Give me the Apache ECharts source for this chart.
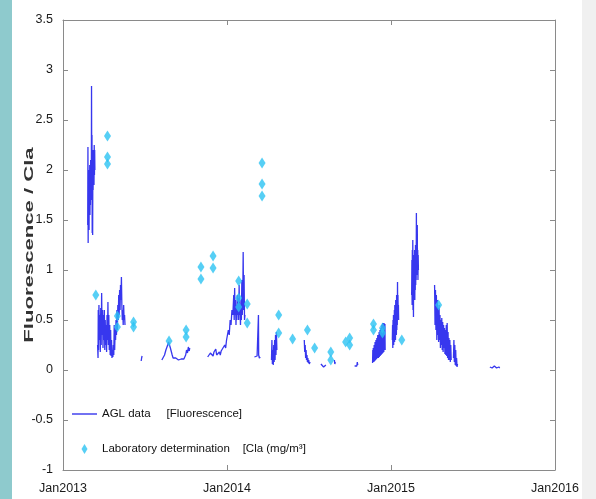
<!DOCTYPE html>
<html><head><meta charset="utf-8">
<script src="https://cdn.jsdelivr.net/npm/echarts@6/dist/echarts.min.js"></script>
<style>html,body{margin:0;padding:0;background:#fff}#c{width:596px;height:499px}</style>
</head><body><div id="c"></div>
<script>
// ---- data ----
const xTickYears = [2013, 2014, 2015, 2016];
const yMin = -1, yMax = 3.5, yStep = 0.5;
const aglName = 'AGL data     [Fluorescence]';
const labName = 'Laboratory determination    [Cla (mg/m\u00B3]';

// AGL fluorescence samples [date, value]; null = gap in record
const aglSamples2013 = [
 ['2013-02-25T00',1.45],['2013-02-25T12',2.23],['2013-02-26T00',1.27],['2013-02-26T12',1.9],['2013-02-27T00',1.5],['2013-02-27T12',2.0],
 ['2013-02-28T00',1.4],['2013-02-28T12',1.85],['2013-03-01T00',1.6],['2013-03-01T12',2.05],['2013-03-02T00',1.55],['2013-03-02T12',1.95],
 ['2013-03-03T00',1.65],['2013-03-03T12',2.1],['2013-03-04T00',1.7],['2013-03-04T12',2.0],['2013-03-05T00',1.75],['2013-03-05T12',2.84],
 ['2013-03-06T00',1.85],['2013-03-06T12',2.35],['2013-03-07T00',1.37],['2013-03-07T12',2.05],['2013-03-08T00',1.35],['2013-03-08T12',2.15],
 ['2013-03-09T00',1.8],['2013-03-09T12',2.2],['2013-03-10T00',1.9],['2013-03-10T12',2.1],['2013-03-11T00',1.85],['2013-03-11T12',2.25],
 ['2013-03-12T00',1.95],['2013-03-12T12',2.2],['2013-03-13T00',2.0],['2013-03-15T00',null],
 ['2013-03-19',0.25],['2013-03-20',0.12],['2013-03-20T12',0.6],['2013-03-21',0.2],['2013-03-22',0.65],['2013-03-23',0.3],['2013-03-24',0.55],
 ['2013-03-25',0.18],['2013-03-26',0.62],['2013-03-27',0.25],['2013-03-28',0.77],['2013-03-29',0.35],['2013-03-30',0.6],['2013-03-31',0.22],
 ['2013-04-01',0.55],['2013-04-02',0.3],['2013-04-03',0.6],['2013-04-04',0.2],['2013-04-05',0.5],['2013-04-06',0.25],['2013-04-07',0.45],
 ['2013-04-08',0.18],['2013-04-09',0.55],['2013-04-10',0.3],['2013-04-11',0.68],['2013-04-12',0.25],['2013-04-13',0.55],['2013-04-14',0.2],
 ['2013-04-15',0.45],['2013-04-16',0.15],['2013-04-17',0.4],['2013-04-18',0.14],['2013-04-19',0.3],['2013-04-20',0.12],['2013-04-21',0.2],
 ['2013-04-22',0.13],['2013-04-23',0.25],['2013-04-24',0.15],['2013-04-25',0.45],['2013-04-26',0.2],['2013-04-27',0.4],['2013-04-28',0.3],
 ['2013-04-29',0.5],['2013-04-30',0.35],['2013-05-01',0.6],['2013-05-02',0.4],['2013-05-03',0.65],['2013-05-04',0.5],['2013-05-05',0.75],
 ['2013-05-06',0.55],['2013-05-07',0.8],['2013-05-08',0.6],['2013-05-09',0.85],['2013-05-10',0.7],['2013-05-11',0.93],['2013-05-12',0.65],
 ['2013-05-13',0.5],['2013-05-14',0.6],['2013-05-15',0.45],['2013-05-16',0.65],['2013-05-17',0.5],['2013-05-18',0.55],['2013-05-19',0.45],
 ['2013-05-21',null],
 ['2013-06-24',0.09],['2013-06-25',0.12],['2013-06-26',0.14],['2013-06-28',null],
 ['2013-08-09',0.1],['2013-08-12',0.12],['2013-08-15',0.15],['2013-08-18',0.2],['2013-08-20',0.22],['2013-08-22',0.25],['2013-08-24',0.28],
 ['2013-08-26',0.26],['2013-08-28',0.22],['2013-08-30',0.2],['2013-09-01',0.15],['2013-09-03',0.12],['2013-09-05',0.13],['2013-09-07',0.11],
 ['2013-09-09',0.12],['2013-09-11',0.1],['2013-09-13',0.11],['2013-09-15',0.1],['2013-09-17',0.12],['2013-09-19',0.1],['2013-09-21',0.11],
 ['2013-09-23',0.1],['2013-09-25',0.12],['2013-09-27',0.11],['2013-09-29',0.13],['2013-10-01',0.15],['2013-10-03',0.2],['2013-10-05',0.17],
 ['2013-10-07',0.23],['2013-10-09',0.19],['2013-10-10',0.22],['2013-10-12',null]
];
const aglSamples2014 = [
 ['2013-11-19',0.13],['2013-11-21',0.15],['2013-11-23',0.14],['2013-11-25',0.17],['2013-11-27',0.15],['2013-11-29',0.16],['2013-12-01',0.14],
 ['2013-12-03',0.18],['2013-12-05',0.16],['2013-12-07',0.21],['2013-12-09',0.15],['2013-12-11',0.17],['2013-12-13',0.14],['2013-12-15',0.18],
 ['2013-12-17',0.15],['2013-12-19',0.19],['2013-12-21',0.17],['2013-12-23',0.22],['2013-12-25',0.2],['2013-12-27',0.25],['2013-12-29',0.22],
 ['2013-12-31',0.3],['2014-01-02',0.28],['2014-01-04',0.4],['2014-01-06',0.35],['2014-01-08',0.5],['2014-01-10',0.45],['2014-01-12',0.6],
 ['2014-01-14',0.55],['2014-01-16',0.75],['2014-01-17',0.5],['2014-01-18',0.82],['2014-01-19',0.55],['2014-01-20',0.7],['2014-01-21',0.45],
 ['2014-01-22',0.65],['2014-01-23',0.5],['2014-01-24',0.75],['2014-01-25',0.55],['2014-01-26',0.72],['2014-01-27',0.5],['2014-01-28',0.85],
 ['2014-01-29',0.55],['2014-01-30',0.65],['2014-01-31',0.45],['2014-02-01',0.7],['2014-02-02',0.5],['2014-02-03',0.9],['2014-02-04',0.55],
 ['2014-02-05',0.7],['2014-02-06',1.18],['2014-02-07',0.6],['2014-02-08',0.95],['2014-02-09',0.5],['2014-02-10',0.55],['2014-02-12',null],
 ['2014-03-03',0.13],['2014-03-06',0.12],['2014-03-09',0.14],['2014-03-11',0.12],['2014-03-12',0.55],['2014-03-12T12',0.15],['2014-03-14',0.12],
 ['2014-03-16',0.13],['2014-03-18',null],
 ['2014-04-10',0.1],['2014-04-11',0.3],['2014-04-12',0.06],['2014-04-13',0.2],['2014-04-14',0.05],['2014-04-15',0.25],['2014-04-16',0.08],
 ['2014-04-17',0.3],['2014-04-18',0.1],['2014-04-19',0.35],['2014-04-20',0.15],['2014-04-21',0.38],['2014-04-22',0.2],['2014-04-24',null],
 ['2014-06-22',0.3],['2014-06-23',0.18],['2014-06-24',0.25],['2014-06-25',0.12],['2014-06-26',0.2],['2014-06-27',0.1],['2014-06-28',0.15],
 ['2014-06-29',0.08],['2014-06-30',0.12],['2014-07-01',0.07],['2014-07-02',0.1],['2014-07-03',0.06],['2014-07-05',0.08],['2014-07-07',0.05],
 ['2014-07-09',null],
 ['2014-07-29',0.06],['2014-08-01',0.04],['2014-08-04',0.03],['2014-08-07',0.04],['2014-08-09',0.05],['2014-08-11',null],
 ['2014-08-28',0.1],['2014-08-29',0.06],['2014-08-30',0.08],['2014-09-01',null],
 ['2014-10-12',0.04],['2014-10-15',0.03],['2014-10-17',0.04],['2014-10-18',0.08],['2014-10-19',0.05],['2014-10-21',null],
 ['2014-11-21T00',0.07],['2014-11-21T12',0.2],['2014-11-22T00',0.08],['2014-11-22T12',0.22],['2014-11-23T00',0.1],['2014-11-23T12',0.18],
 ['2014-11-24T00',0.08],['2014-11-24T12',0.25],['2014-11-25T00',0.1],['2014-11-25T12',0.22],['2014-11-26T00',0.09],['2014-11-26T12',0.28],
 ['2014-11-27T00',0.12],['2014-11-27T12',0.25],['2014-11-28T00',0.1],['2014-11-28T12',0.3],['2014-11-29T00',0.12],['2014-11-29T12',0.27],
 ['2014-11-30T00',0.11],['2014-11-30T12',0.32],['2014-12-01T00',0.13],['2014-12-01T12',0.28],['2014-12-02T00',0.12],['2014-12-02T12',0.35],
 ['2014-12-03T00',0.14],['2014-12-03T12',0.3],['2014-12-04T00',0.12],['2014-12-04T12',0.33],['2014-12-05T00',0.15],['2014-12-05T12',0.38],
 ['2014-12-06T00',0.13],['2014-12-06T12',0.3],['2014-12-07T00',0.15],['2014-12-07T12',0.4],['2014-12-08T00',0.14],['2014-12-08T12',0.35],
 ['2014-12-09T00',0.16],['2014-12-09T12',0.42],['2014-12-10T00',0.15],['2014-12-10T12',0.38],['2014-12-11T00',0.17],['2014-12-11T12',0.45],
 ['2014-12-12T00',0.16],['2014-12-12T12',0.4],['2014-12-13T00',0.18],['2014-12-13T12',0.47],['2014-12-14T00',0.17],['2014-12-14T12',0.42],
 ['2014-12-15T00',0.2],['2014-12-15T12',0.45],['2014-12-16T00',0.18],['2014-12-16T12',0.47],['2014-12-17T00',0.2],['2014-12-17T12',0.4],
 ['2014-12-18T00',0.22],['2014-12-18T12',0.46],['2014-12-19T00',0.2],['2014-12-21T00',null]
];
const aglSamples2015 = [
 ['2015-01-04T00',0.3],['2015-01-04T12',0.45],['2015-01-05T00',0.22],['2015-01-05T12',0.5],['2015-01-06T00',0.3],['2015-01-06T12',0.55],
 ['2015-01-07T00',0.25],['2015-01-07T12',0.52],['2015-01-08T00',0.32],['2015-01-08T12',0.6],['2015-01-09T00',0.28],['2015-01-09T12',0.65],
 ['2015-01-10T00',0.35],['2015-01-10T12',0.62],['2015-01-11T00',0.3],['2015-01-11T12',0.7],['2015-01-12T00',0.38],['2015-01-12T12',0.68],
 ['2015-01-13T00',0.35],['2015-01-13T12',0.75],['2015-01-14T00',0.4],['2015-01-14T12',0.7],['2015-01-15T00',0.45],['2015-01-15T12',0.88],
 ['2015-01-16T00',0.5],['2015-01-16T12',0.75],['2015-01-17T00',0.55],['2015-01-17T12',0.65],['2015-01-18T00',0.5],['2015-01-20T00',null],
 ['2015-02-16T00',0.75],['2015-02-16T12',1.1],['2015-02-17T00',0.65],['2015-02-17T12',1.2],['2015-02-18T00',0.7],['2015-02-18T12',1.3],
 ['2015-02-19T00',0.6],['2015-02-19T12',1.05],['2015-02-20T00',0.53],['2015-02-20T12',1.15],['2015-02-21T00',0.7],['2015-02-21T12',1.1],
 ['2015-02-22T00',0.75],['2015-02-22T12',1.2],['2015-02-23T00',0.7],['2015-02-23T12',1.15],['2015-02-24T00',0.8],['2015-02-24T12',1.25],
 ['2015-02-25T00',0.85],['2015-02-25T12',1.2],['2015-02-26T00',0.9],['2015-02-26T12',1.57],['2015-02-27T00',0.95],['2015-02-27T12',1.3],
 ['2015-02-28T00',1.0],['2015-02-28T12',1.45],['2015-03-01T00',0.95],['2015-03-01T12',1.2],['2015-03-02T00',0.9],['2015-03-02T12',1.15],
 ['2015-03-03T00',1.0],['2015-03-05T00',null],
 ['2015-04-08',0.85],['2015-04-09',0.45],['2015-04-10',0.8],['2015-04-11',0.4],['2015-04-12',0.75],['2015-04-13',0.3],['2015-04-14',0.7],
 ['2015-04-15',0.35],['2015-04-16',0.62],['2015-04-17',0.28],['2015-04-18',0.65],['2015-04-19',0.3],['2015-04-20',0.55],['2015-04-21',0.22],
 ['2015-04-22',0.5],['2015-04-23',0.25],['2015-04-24',0.52],['2015-04-25',0.2],['2015-04-26',0.48],['2015-04-27',0.18],['2015-04-28',0.45],
 ['2015-04-29',0.22],['2015-04-30',0.42],['2015-05-01',0.16],['2015-05-02',0.4],['2015-05-03',0.15],['2015-05-04',0.45],['2015-05-05',0.14],
 ['2015-05-06',0.47],['2015-05-07',0.12],['2015-05-08',0.38],['2015-05-09',0.1],['2015-05-10',0.32],['2015-05-11',0.1],['2015-05-12',0.3],
 ['2015-05-13',0.08],['2015-05-14',0.25],['2015-05-15',0.1],['2015-05-17',null],
 ['2015-05-20',0.12],['2015-05-21',0.3],['2015-05-22',0.08],['2015-05-23',0.25],['2015-05-24',0.05],['2015-05-25',0.2],['2015-05-26',0.04],
 ['2015-05-27',0.12],['2015-05-28',0.03],['2015-05-29',0.06],['2015-05-31',null],
 ['2015-08-09',0.03],['2015-08-14',0.02],['2015-08-19',0.04],['2015-08-24',0.02],['2015-08-29',0.03],['2015-08-31',0.02]
];

// Laboratory determinations
const labDates = ['2013-03-15','2013-04-10','2013-04-10','2013-04-10','2013-05-02','2013-05-02','2013-06-07','2013-06-07',
 '2013-08-25','2013-10-02','2013-10-02','2013-11-04','2013-11-04','2013-12-01','2013-12-01','2014-01-27','2014-01-27','2014-01-27',
 '2014-02-15','2014-02-15','2014-03-20','2014-03-20','2014-03-20','2014-04-26','2014-04-26','2014-05-27','2014-06-29','2014-07-15',
 '2014-08-20','2014-08-20','2014-09-22','2014-10-01','2014-10-01','2014-11-23','2014-11-23','2014-12-13','2014-12-13','2015-01-25','2015-04-17'];
const labValues = [0.75,2.34,2.13,2.06,0.54,0.43,0.48,0.43,
 0.29,0.40,0.33,1.03,0.91,1.14,1.02,0.89,0.72,0.63,
 0.66,0.47,2.07,1.86,1.74,0.55,0.37,0.31,0.40,0.22,
 0.18,0.10,0.28,0.32,0.25,0.46,0.40,0.42,0.37,0.30,0.65];

// ---- build ----
const toMs = s => Date.parse(s.length > 10 ? s + ':00:00Z' : s + 'T00:00:00Z');
const yearMs = 365 * 86400000;
const xMin = Date.UTC(xTickYears[0], 0, 1);
const xMax = Date.UTC(xTickYears[xTickYears.length - 1], 0, 1);
const aglData = [].concat(aglSamples2013, aglSamples2014, aglSamples2015).map(p => [toMs(p[0]), p[1]]);
const labData = labDates.map((d, i) => [toMs(d), labValues[i]]);

const sans = "'Liberation Sans', Arial, sans-serif";
const frame = '#8a8a8a';
const baseX = {
  type: 'value', min: xMin, max: xMax, interval: yearMs,
  axisLine: { show: true, onZero: false, lineStyle: { color: frame, width: 1 } },
  axisTick: { show: true, inside: true, length: 5, lineStyle: { color: frame } },
  splitLine: { show: false }
};
const baseY = {
  type: 'value', min: yMin, max: yMax, interval: yStep,
  axisLine: { show: true, onZero: false, lineStyle: { color: frame, width: 1 } },
  axisTick: { show: true, inside: true, length: 5, lineStyle: { color: frame } },
  splitLine: { show: false }
};

const chart = echarts.init(document.getElementById('c'), null, { renderer: 'canvas' });
chart.setOption({
  animation: false,
  backgroundColor: '#ffffff',
  grid: { left: 63, right: 41, top: 20, bottom: 29 },
  xAxis: [
    Object.assign({}, baseX, { position: 'bottom',
      axisLabel: { show: true, margin: 12, fontFamily: sans, fontSize: 12.5, color: '#1a1a1a',
        formatter: v => 'Jan' + new Date(v).getUTCFullYear() } }),
    Object.assign({}, baseX, { position: 'top', axisLabel: { show: false } })
  ],
  yAxis: [
    Object.assign({}, baseY, { position: 'left',
      axisLabel: { show: true, margin: 10, fontFamily: sans, fontSize: 12.5, color: '#1a1a1a' } }),
    Object.assign({}, baseY, { position: 'right', axisLabel: { show: false } })
  ],
  legend: {
    left: 67, top: 403, orient: 'vertical', itemWidth: 25, itemHeight: 10, itemGap: 23,
    textStyle: { fontFamily: sans, fontSize: 11.5, color: '#111' },
    data: [
      { name: aglName, icon: 'path://M0,0L25,0L25,2L0,2Z', itemStyle: { color: '#7272f2' } },
      { name: labName, icon: 'path://M3,0L6,5L3,10L0,5Z' }
    ]
  },
  graphic: [
    { type: 'rect', left: 0, top: 0, shape: { width: 12, height: 499 }, style: { fill: '#8ecacd' }, silent: true },
    { type: 'rect', left: 582, top: 0, shape: { width: 14, height: 499 }, style: { fill: '#f0f0f0' }, silent: true },
    { type: 'text', x: 29, y: 245, rotation: Math.PI / 2, scaleX: 1.7, silent: true,
      style: { text: 'Fluorescence / Cla', font: "bold 13px 'Liberation Sans', Arial, sans-serif", fill: '#333',
        align: 'center', verticalAlign: 'middle', textAlign: 'center', textVerticalAlign: 'middle' } }
  ],
  series: [
    { name: aglName, type: 'line', data: aglData, symbol: 'none', connectNulls: false,
      lineStyle: { color: 'rgba(20,20,235,0.85)', width: 1.3 }, itemStyle: { color: '#3a3af0' }, z: 2 },
    { name: labName, type: 'scatter', data: labData, symbol: 'diamond', symbolSize: [7, 11],
      itemStyle: { color: '#2cc3f3' }, z: 3 }
  ]
});
</script></body></html>
